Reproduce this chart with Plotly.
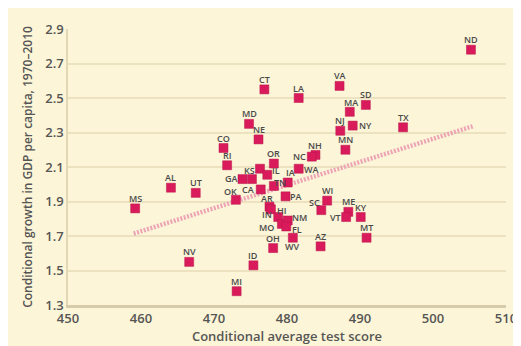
import plotly.graph_objects as go

states = ["ND","VA","CT","LA","SD","MA","NJ","NY","TX","MN","NH","NC","WA","MD","NE",
          "CO","RI","GA","KS","","OR","IL","TN","IA","CA","OK","AL","UT","MS","NV","ID",
          "MI","OH","WV","AZ","WI","SC","ME","VT","KY","MT","PA","AR","HI","IN","MO","NM","FL"]
test_score = [505.2,487.2,476.9,481.6,490.8,488.6,487.3,489.0,495.9,488.0,483.9,483.4,481.6,474.8,476.1,
              471.3,471.8,473.9,475.2,476.3,478.2,477.3,478.2,480.1,476.4,473.0,464.1,467.5,459.2,466.6,475.4,
              473.1,478.1,480.8,484.6,485.5,484.7,488.4,488.1,490.1,490.9,479.8,477.6,477.8,478.8,479.3,480.1,479.9]
gdp_growth = [2.78,2.57,2.55,2.50,2.46,2.42,2.31,2.34,2.33,2.20,2.17,2.16,2.09,2.35,2.26,
              2.21,2.11,2.03,2.03,2.09,2.12,2.055,1.99,2.01,1.97,1.91,1.98,1.95,1.86,1.55,1.53,
              1.38,1.63,1.69,1.64,1.905,1.85,1.84,1.81,1.81,1.69,1.93,1.87,1.855,1.81,1.77,1.79,1.755]

trend_x = [459.0, 505.5]
trend_y = [1.714, 2.337]

x_ticks = [450, 460, 470, 480, 490, 500, 510]
y_ticks = [1.3, 1.5, 1.7, 1.9, 2.1, 2.3, 2.5, 2.7, 2.9]

# label placement (pixel offsets from marker: dx right, dy up); default is above the marker
label_offsets = {
    "NY": (13, 0), "NC": (-12, 0), "WA": (13, -1), "NH": (0, 9), "KS": (-2, 9),
    "GA": (-11, 1), "IL": (9, 4), "TN": (6, 3), "IA": (3, 10), "CA": (-13, 0),
    "OK": (-5, 8),
    "AR": (-2, 8), "HI": (11, -1), "PA": (10, 0), "IN": (-11, 3), "MO": (-15, -4),
    "NM": (12, 3), "FL": (11, -3), "WV": (0, -9), "SC": (-7, 8), "VT": (-11, 0),
    "MA": (1, 9),
}
default_offset = (0, 10)

font_family = "Open Sans, Lato, sans-serif"
text_color = "#555555"

fig = go.Figure()
fig.add_trace(go.Scatter(
    x=trend_x, y=trend_y, mode="lines",
    line=dict(color="#eba5b6", width=4.5, dash="2px,1.5px"),
    hoverinfo="skip", showlegend=False))
fig.add_trace(go.Scatter(
    x=test_score, y=gdp_growth, mode="markers",
    marker=dict(symbol="square", size=9, color="#d91b5c",
                line=dict(width=0.5, color="#b8154c")),
    showlegend=False))

for s, xv, yv in zip(states, test_score, gdp_growth):
    if not s:
        continue
    dx, dy = label_offsets.get(s, default_offset)
    fig.add_annotation(
        x=xv, y=yv, text=s, showarrow=False, xshift=dx, yshift=dy,
        font=dict(family=font_family, size=9, color="#4a4a4a", weight=600),
    )

fig.update_layout(
    width=521, height=346,
    margin=dict(l=60, r=13, t=17, b=49),
    paper_bgcolor="#fdf5d7", plot_bgcolor="#fdf5d7",
    font=dict(family=font_family, color=text_color),
)
fig.update_xaxes(
    range=[450, 510], tickvals=x_ticks, ticktext=[str(v) for v in x_ticks],
    showgrid=False, zeroline=False,
    showline=True, linecolor="#d6cca9", linewidth=2.5,
    ticks="", tickfont=dict(size=13, color=text_color, weight=600),
    title=dict(text="Conditional average test score",
               font=dict(size=13, color=text_color, weight=600), standoff=5),
)
fig.update_yaxes(
    range=[1.3, 2.9], tickvals=y_ticks, ticktext=[f"{v:.1f}" for v in y_ticks],
    showgrid=True, gridcolor="#ece2bf", gridwidth=1.5, zeroline=False,
    showline=True, linecolor="#e2d8b5", linewidth=1.5,
    ticks="", tickfont=dict(size=13, color=text_color, weight=600),
    title=dict(text="Conditional growth in GDP per capita, 1970–2010",
               font=dict(size=12, color=text_color, weight=600), standoff=10),
)

fig.write_html("out.html")
